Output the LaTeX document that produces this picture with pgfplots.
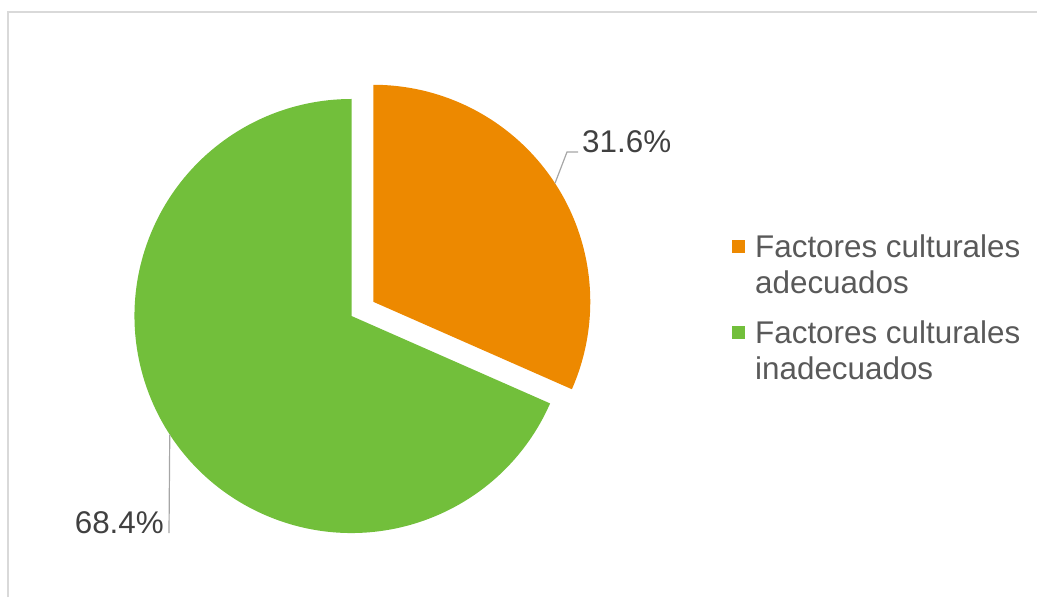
\documentclass[border=0pt]{standalone}
\usepackage{pgfplots}
\pgfplotsset{compat=1.18}
\usepackage{pgfplotstable}
\usepackage{fontspec}
\setmainfont{Liberation Sans}

\definecolor{naranja}{RGB}{237,137,0}
\definecolor{verde}{RGB}{114,191,59}
\definecolor{texto}{RGB}{64,64,64}
\definecolor{leyenda}{RGB}{89,89,89}
\definecolor{guia}{RGB}{166,166,166}
\definecolor{marco}{RGB}{217,217,217}

% porcentajes de cada sector
\pgfplotstableread{
valor
31.6
68.4
}\datos

\begin{document}
\begin{tikzpicture}[every node/.style={inner sep=0pt, font=\fontsize{31.5}{36}\selectfont}]
\pgfplotstablegetelem{0}{valor}\of\datos \let\va\pgfplotsretval
\pgfplotstablegetelem{1}{valor}\of\datos \let\vb\pgfplotsretval
% geometria del pastel (unidades = pixeles de la imagen)
\def\cx{351.5}\def\cy{281}\def\r{217}\def\sep{26}
\pgfmathsetmacro\fin{90-3.6*\va}
\pgfmathsetmacro\mA{90-1.8*\va}
\pgfmathsetmacro\mB{\fin-1.8*\vb}
\pgfmathsetmacro\ox{\cx+\sep*cos(\mA)}
\pgfmathsetmacro\oy{\cy+\sep*sin(\mA)}
\pgfmathsetmacro\lax{\ox+\r*cos(\mA)}
\pgfmathsetmacro\lay{\oy+\r*sin(\mA)}
\pgfmathsetmacro\lbx{\cx+\r*cos(\mB)}
\pgfmathsetmacro\lby{\cy+\r*sin(\mB)}
\begin{axis}[
  width=1037bp, height=597bp, scale only axis,
  xmin=0, xmax=1037, ymin=0, ymax=597,
  disabledatascaling, hide axis, clip=false,
]
% marco del grafico
\draw[marco, line width=1.5pt] (axis cs:8,0) -- (axis cs:8,585) -- (axis cs:1037,585);

% sectores
\fill[verde] (axis cs:\cx,\cy) -- ++(\fin:\r) arc[start angle=\fin, end angle=-270, radius=\r] -- cycle;
\fill[naranja] (axis cs:\ox,\oy) -- ++(90:\r) arc[start angle=90, end angle=\fin, radius=\r] -- cycle;

% lineas guia y etiquetas
\draw[guia, line width=1.2pt] (axis cs:\lax,\lay) -- (axis cs:567,445) -- (axis cs:578,445);
\node[anchor=base west, text=texto] at (axis cs:582,444) {31.6\%};
\draw[guia, line width=1.2pt] (axis cs:\lbx,\lby) -- (axis cs:169,64);
\node[anchor=base east, text=texto] at (axis cs:164,64) {68.4\%};

% leyenda
\fill[naranja] (axis cs:732,344) rectangle (axis cs:745,357);
\node[anchor=base west, text=leyenda] at (axis cs:755,339) {Factores culturales};
\node[anchor=base west, text=leyenda] at (axis cs:755,303.5) {adecuados};
\fill[verde] (axis cs:732,258) rectangle (axis cs:745,271);
\node[anchor=base west, text=leyenda] at (axis cs:755,253) {Factores culturales};
\node[anchor=base west, text=leyenda] at (axis cs:755,217.5) {inadecuados};
\end{axis}
\pgfresetboundingbox
\useasboundingbox (current axis.south west) rectangle (current axis.north east);
\end{tikzpicture}
\end{document}
